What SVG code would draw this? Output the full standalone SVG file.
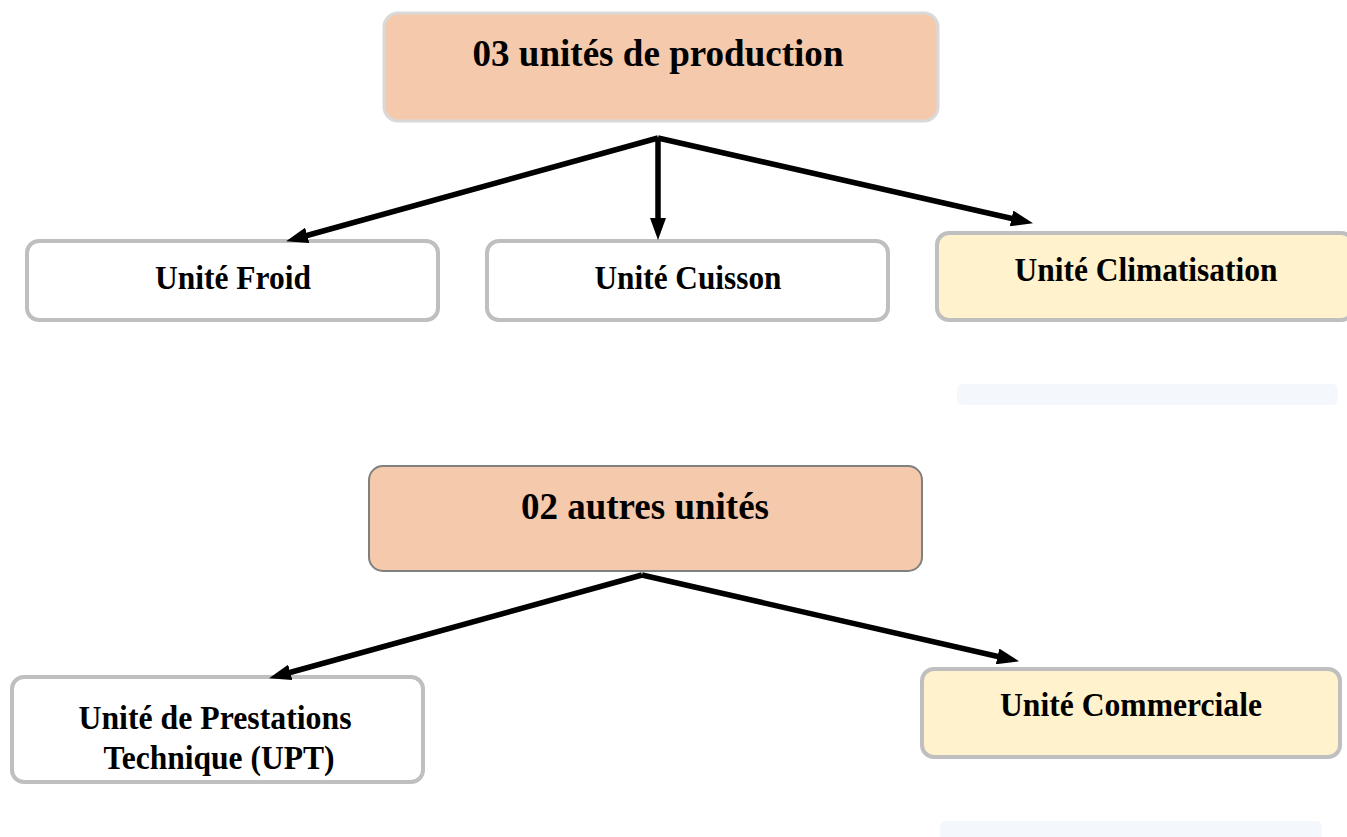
<svg xmlns="http://www.w3.org/2000/svg" width="1347" height="837" viewBox="0 0 1347 837">
<style>
text{font-family:"Liberation Serif","Times New Roman",serif;font-weight:bold;fill:#000;text-anchor:middle}
.title{font-size:38px}
.lbl{font-size:33px}
.parentA{fill:#F5C9AB;stroke:#D9D9D9;stroke-width:3}
.parentB{fill:#F5C9AB;stroke:#808080;stroke-width:2}
.white{fill:#FFFFFF;stroke:#BFBFBF;stroke-width:4}
.yellow{fill:#FFF2CC;stroke:#BFBFBF;stroke-width:4}
.faint{fill:#F4F7FB;stroke:none}
.conn line{stroke:#000;stroke-width:5.5;marker-end:url(#arr)}
</style>
<defs>
<marker id="arr" markerUnits="userSpaceOnUse" markerWidth="22" markerHeight="16" viewBox="0 0 22 16" refX="6" refY="8" orient="auto">
<path d="M0,0 L22,8 L0,16 z" fill="#000"/>
</marker>
</defs>
<rect width="1347" height="837" fill="#FFFFFF"/>
<g id="n-production">
<rect class="parentA" x="384" y="13" width="554" height="108" rx="14"/>
<text class="title" x="658" y="66" textLength="371" lengthAdjust="spacingAndGlyphs">03 unités de production</text>
</g>
<g id="n-froid">
<rect class="white" x="27" y="241" width="411" height="79" rx="12"/>
<text class="lbl" x="233" y="289" textLength="156" lengthAdjust="spacingAndGlyphs">Unité Froid</text>
</g>
<g id="n-cuisson">
<rect class="white" x="487" y="241" width="401" height="79" rx="12"/>
<text class="lbl" x="688" y="289" textLength="187" lengthAdjust="spacingAndGlyphs">Unité Cuisson</text>
</g>
<g id="n-climatisation">
<rect class="yellow" x="937" y="233" width="416" height="87" rx="12"/>
<text class="lbl" x="1146" y="281" textLength="263" lengthAdjust="spacingAndGlyphs">Unité Climatisation</text>
</g>
<g id="n-faint1">
<rect class="faint" x="957" y="384" width="381" height="21" rx="6"/>
</g>
<g id="n-autres">
<rect class="parentB" x="369" y="466" width="553" height="105" rx="14"/>
<text class="title" x="645" y="519" textLength="248" lengthAdjust="spacingAndGlyphs">02 autres unités</text>
</g>
<g id="n-upt">
<rect class="white" x="12" y="677" width="411" height="105" rx="12"/>
<text class="lbl" x="215" y="729" textLength="273" lengthAdjust="spacingAndGlyphs">Unité de Prestations</text>
<text class="lbl" x="219" y="769" textLength="231" lengthAdjust="spacingAndGlyphs">Technique (UPT)</text>
</g>
<g id="n-commerciale">
<rect class="yellow" x="922" y="669" width="418" height="88" rx="12"/>
<text class="lbl" x="1131" y="716" textLength="262" lengthAdjust="spacingAndGlyphs">Unité Commerciale</text>
</g>
<g id="n-faint2">
<rect class="faint" x="940" y="821" width="382" height="20" rx="6"/>
</g>
<g id="connectors" class="conn">
<line x1="658" y1="138" x2="301.5" y2="237"/>
<line x1="658" y1="138" x2="658" y2="224"/>
<line x1="658" y1="138" x2="1017.4" y2="219.7"/>
<line x1="642" y1="575" x2="284.5" y2="674"/>
<line x1="642" y1="575" x2="1003.4" y2="657.7"/>
</g>
</svg>
